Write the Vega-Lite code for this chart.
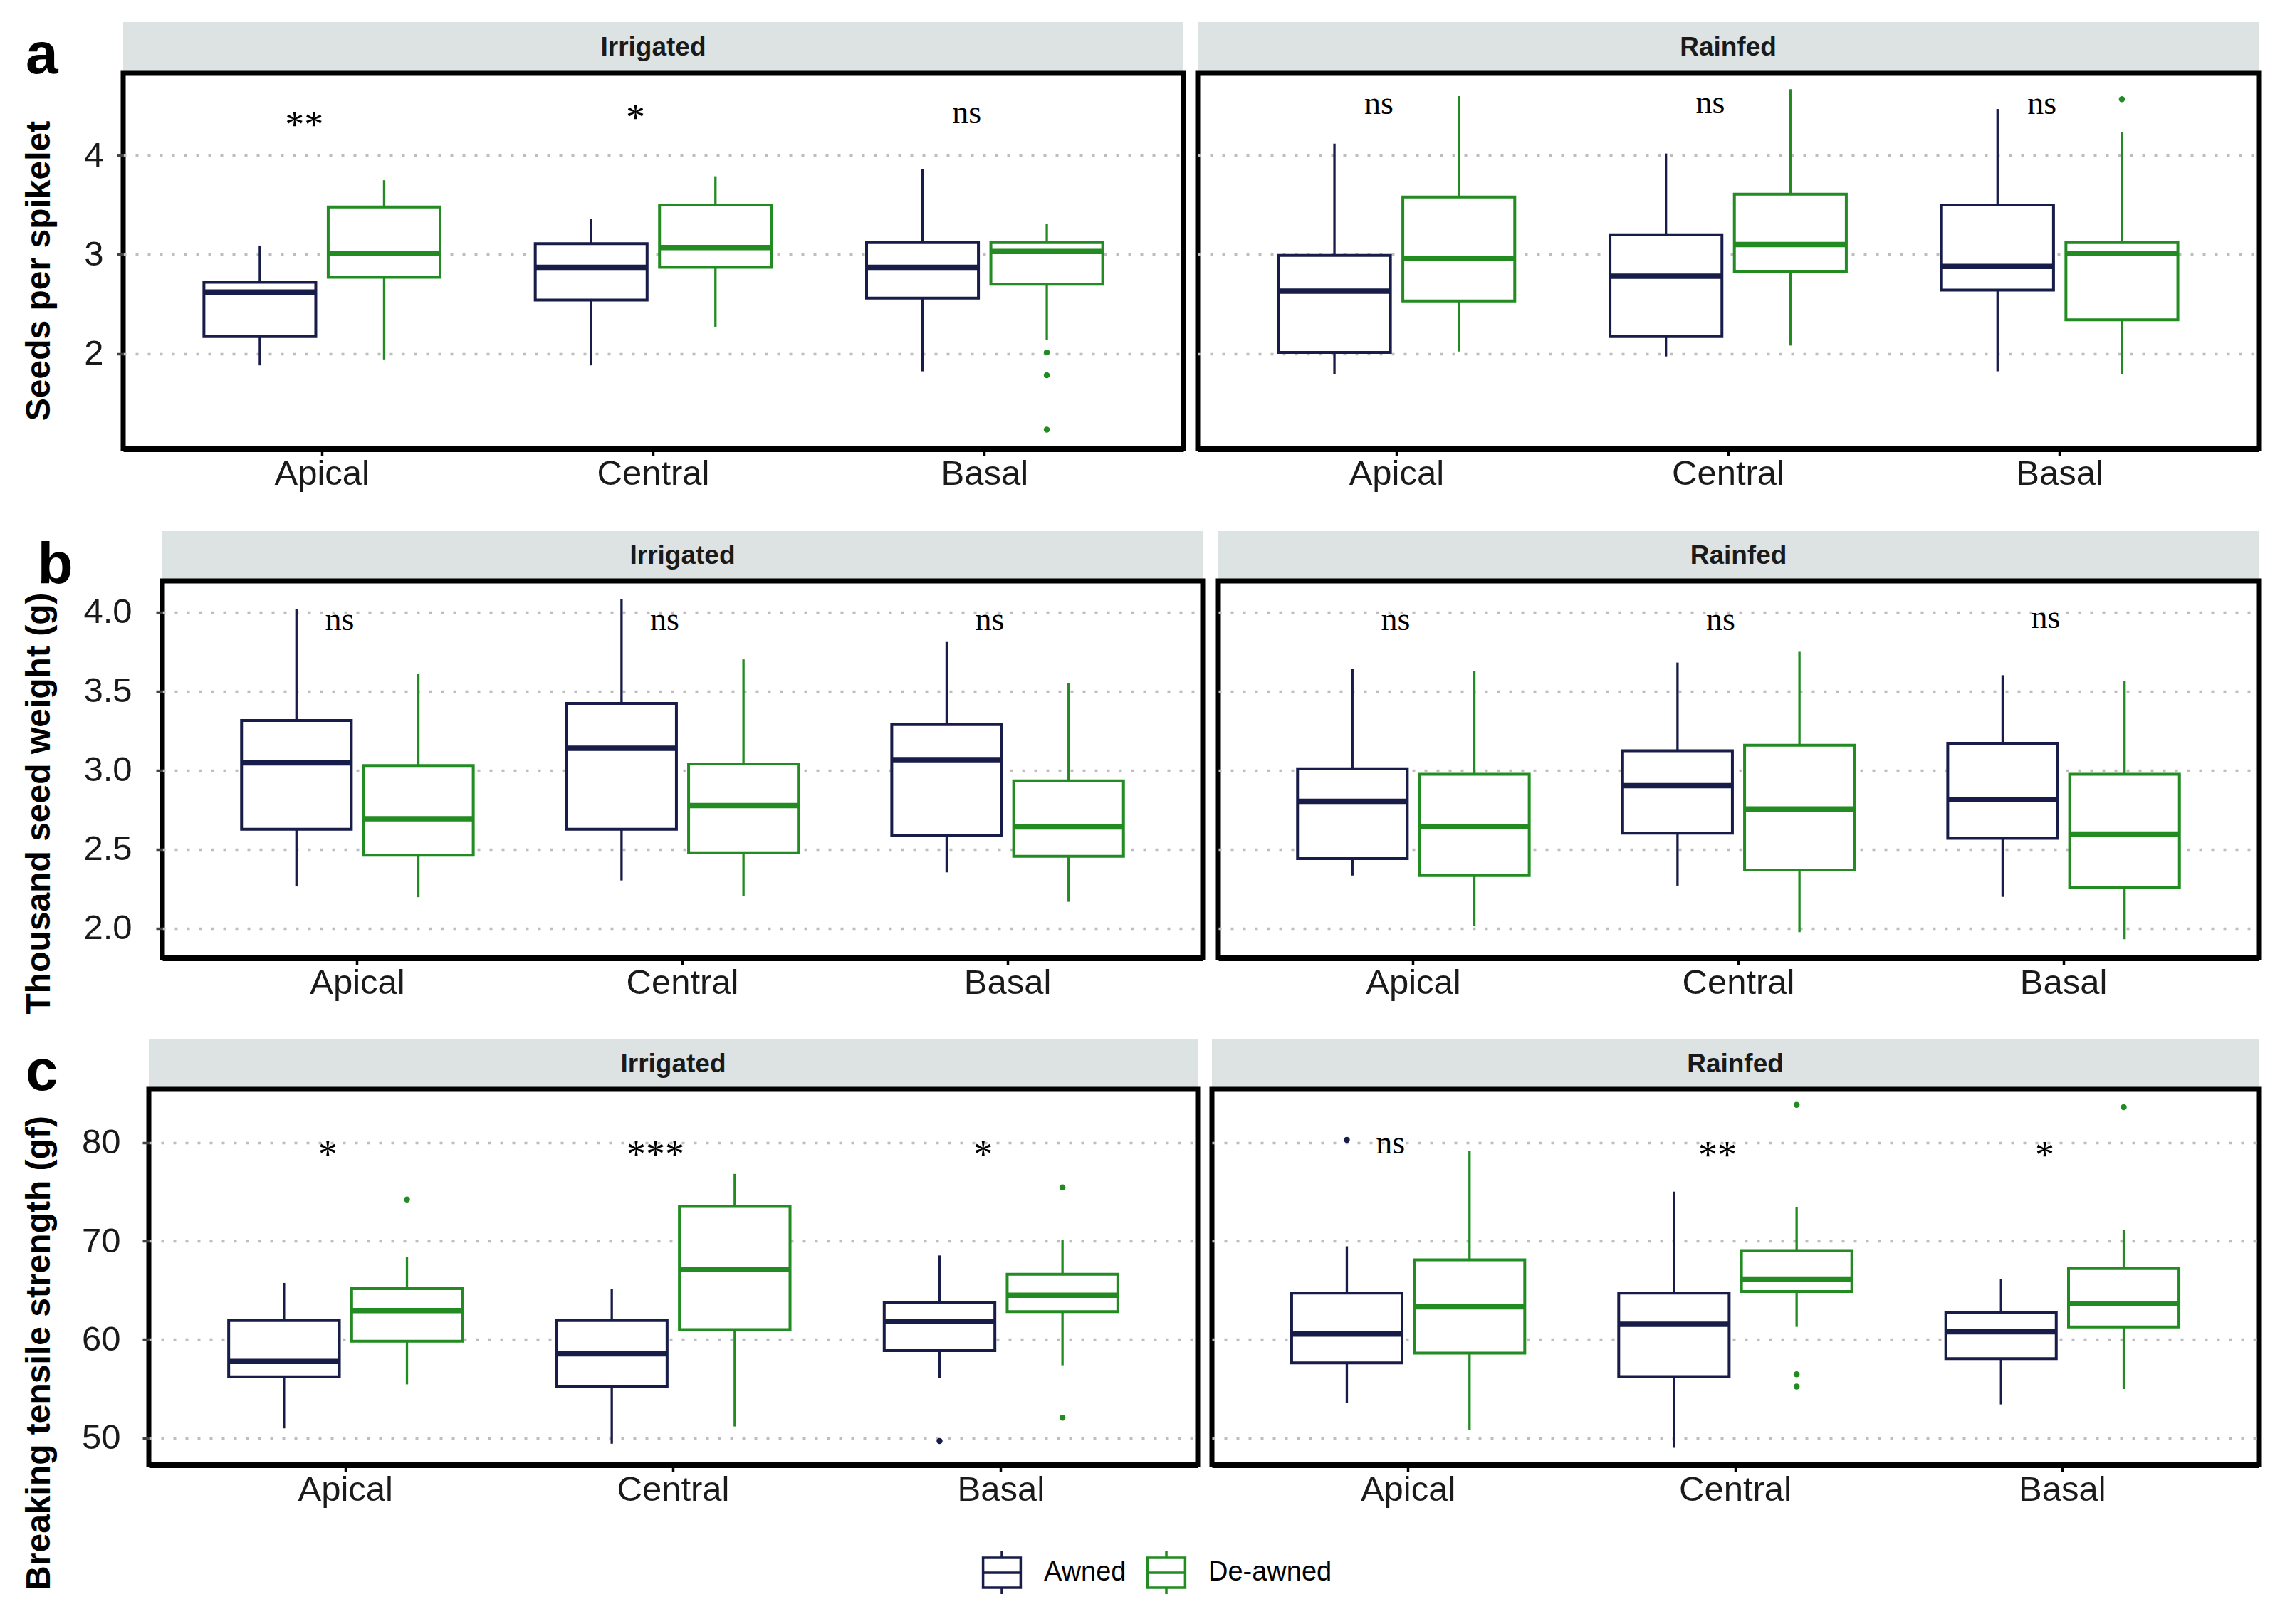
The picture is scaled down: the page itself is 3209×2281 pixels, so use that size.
{
"$schema":"https://vega.github.io/schema/vega-lite/v6.json",
"background":"white",
"padding":{"left":0,"top":30,"right":0,"bottom":0},
"datasets":{
"a_box":[
{"cond":"Irrigated","pos":"Apical","grp":"Awned","lo":1.88,"q1":2.17,"med":2.62,"q3":2.72,"hi":3.09},
{"cond":"Irrigated","pos":"Apical","grp":"De-awned","lo":1.94,"q1":2.77,"med":3.01,"q3":3.48,"hi":3.75},
{"cond":"Irrigated","pos":"Central","grp":"Awned","lo":1.88,"q1":2.54,"med":2.87,"q3":3.11,"hi":3.36},
{"cond":"Irrigated","pos":"Central","grp":"De-awned","lo":2.27,"q1":2.87,"med":3.07,"q3":3.50,"hi":3.79},
{"cond":"Irrigated","pos":"Basal","grp":"Awned","lo":1.82,"q1":2.56,"med":2.87,"q3":3.12,"hi":3.86},
{"cond":"Irrigated","pos":"Basal","grp":"De-awned","lo":2.14,"q1":2.70,"med":3.03,"q3":3.12,"hi":3.31},
{"cond":"Rainfed","pos":"Apical","grp":"Awned","lo":1.79,"q1":2.01,"med":2.63,"q3":2.99,"hi":4.12},
{"cond":"Rainfed","pos":"Apical","grp":"De-awned","lo":2.02,"q1":2.53,"med":2.96,"q3":3.58,"hi":4.60},
{"cond":"Rainfed","pos":"Central","grp":"Awned","lo":1.97,"q1":2.17,"med":2.78,"q3":3.20,"hi":4.02},
{"cond":"Rainfed","pos":"Central","grp":"De-awned","lo":2.08,"q1":2.83,"med":3.10,"q3":3.61,"hi":4.67},
{"cond":"Rainfed","pos":"Basal","grp":"Awned","lo":1.82,"q1":2.64,"med":2.88,"q3":3.50,"hi":4.47},
{"cond":"Rainfed","pos":"Basal","grp":"De-awned","lo":1.79,"q1":2.34,"med":3.01,"q3":3.12,"hi":4.24}
],
"a_out":[
{"cond":"Irrigated","pos":"Basal","grp":"De-awned","v":2.01},
{"cond":"Irrigated","pos":"Basal","grp":"De-awned","v":1.78},
{"cond":"Irrigated","pos":"Basal","grp":"De-awned","v":1.23},
{"cond":"Rainfed","pos":"Basal","grp":"De-awned","v":4.57}
],
"a_sig":[
{"cond":"Irrigated","pos":"Apical","lab":"**","v":4.30},
{"cond":"Irrigated","pos":"Central","lab":"*","v":4.37},
{"cond":"Irrigated","pos":"Basal","lab":"ns","v":4.43},
{"cond":"Rainfed","pos":"Apical","lab":"ns","v":4.52},
{"cond":"Rainfed","pos":"Central","lab":"ns","v":4.53},
{"cond":"Rainfed","pos":"Basal","lab":"ns","v":4.52}
],
"b_box":[
{"cond":"Irrigated","pos":"Apical","grp":"Awned","lo":2.264,"q1":2.626,"med":3.045,"q3":3.314,"hi":4.017},
{"cond":"Irrigated","pos":"Apical","grp":"De-awned","lo":2.196,"q1":2.461,"med":2.692,"q3":3.029,"hi":3.607},
{"cond":"Irrigated","pos":"Central","grp":"Awned","lo":2.302,"q1":2.626,"med":3.138,"q3":3.421,"hi":4.079},
{"cond":"Irrigated","pos":"Central","grp":"De-awned","lo":2.202,"q1":2.477,"med":2.775,"q3":3.039,"hi":3.70},
{"cond":"Irrigated","pos":"Basal","grp":"Awned","lo":2.353,"q1":2.585,"med":3.066,"q3":3.287,"hi":3.81},
{"cond":"Irrigated","pos":"Basal","grp":"De-awned","lo":2.167,"q1":2.455,"med":2.640,"q3":2.932,"hi":3.55},
{"cond":"Rainfed","pos":"Apical","grp":"Awned","lo":2.333,"q1":2.440,"med":2.802,"q3":3.008,"hi":3.638},
{"cond":"Rainfed","pos":"Apical","grp":"De-awned","lo":2.012,"q1":2.333,"med":2.643,"q3":2.973,"hi":3.624},
{"cond":"Rainfed","pos":"Central","grp":"Awned","lo":2.269,"q1":2.601,"med":2.901,"q3":3.122,"hi":3.68},
{"cond":"Rainfed","pos":"Central","grp":"De-awned","lo":1.975,"q1":2.368,"med":2.754,"q3":3.157,"hi":3.748},
{"cond":"Rainfed","pos":"Basal","grp":"Awned","lo":2.198,"q1":2.568,"med":2.812,"q3":3.169,"hi":3.60},
{"cond":"Rainfed","pos":"Basal","grp":"De-awned","lo":1.930,"q1":2.258,"med":2.595,"q3":2.973,"hi":3.562}
],
"b_sig":[
{"cond":"Irrigated","pos":"Apical","lab":"ns","v":3.95},
{"cond":"Irrigated","pos":"Central","lab":"ns","v":3.95},
{"cond":"Irrigated","pos":"Basal","lab":"ns","v":3.95},
{"cond":"Rainfed","pos":"Apical","lab":"ns","v":3.95},
{"cond":"Rainfed","pos":"Central","lab":"ns","v":3.95},
{"cond":"Rainfed","pos":"Basal","lab":"ns","v":3.96}
],
"c_box":[
{"cond":"Irrigated","pos":"Apical","grp":"Awned","lo":50.97,"q1":56.21,"med":57.77,"q3":61.93,"hi":65.74},
{"cond":"Irrigated","pos":"Apical","grp":"De-awned","lo":55.44,"q1":59.83,"med":62.94,"q3":65.15,"hi":68.34},
{"cond":"Irrigated","pos":"Central","grp":"Awned","lo":49.41,"q1":55.24,"med":58.55,"q3":61.93,"hi":65.15},
{"cond":"Irrigated","pos":"Central","grp":"De-awned","lo":51.16,"q1":61.0,"med":67.10,"q3":73.51,"hi":76.81},
{"cond":"Irrigated","pos":"Basal","grp":"Awned","lo":56.10,"q1":58.86,"med":61.85,"q3":63.79,"hi":68.53},
{"cond":"Irrigated","pos":"Basal","grp":"De-awned","lo":57.38,"q1":62.82,"med":64.49,"q3":66.63,"hi":70.09},
{"cond":"Rainfed","pos":"Apical","grp":"Awned","lo":53.56,"q1":57.62,"med":60.55,"q3":64.70,"hi":69.46},
{"cond":"Rainfed","pos":"Apical","grp":"De-awned","lo":50.80,"q1":58.62,"med":63.31,"q3":68.09,"hi":79.17},
{"cond":"Rainfed","pos":"Central","grp":"Awned","lo":49.0,"q1":56.22,"med":61.54,"q3":64.70,"hi":75.01},
{"cond":"Rainfed","pos":"Central","grp":"De-awned","lo":61.28,"q1":64.87,"med":66.13,"q3":69.03,"hi":73.42},
{"cond":"Rainfed","pos":"Basal","grp":"Awned","lo":53.40,"q1":58.05,"med":60.78,"q3":62.71,"hi":66.13},
{"cond":"Rainfed","pos":"Basal","grp":"De-awned","lo":54.96,"q1":61.28,"med":63.64,"q3":67.20,"hi":71.09}
],
"c_out":[
{"cond":"Irrigated","pos":"Apical","grp":"De-awned","v":74.21},
{"cond":"Irrigated","pos":"Basal","grp":"Awned","v":49.69},
{"cond":"Irrigated","pos":"Basal","grp":"De-awned","v":75.45},
{"cond":"Irrigated","pos":"Basal","grp":"De-awned","v":52.06},
{"cond":"Rainfed","pos":"Apical","grp":"Awned","v":80.27},
{"cond":"Rainfed","pos":"Central","grp":"De-awned","v":83.82},
{"cond":"Rainfed","pos":"Central","grp":"De-awned","v":56.46},
{"cond":"Rainfed","pos":"Central","grp":"De-awned","v":55.22},
{"cond":"Rainfed","pos":"Basal","grp":"De-awned","v":83.59}
],
"c_sig":[
{"cond":"Irrigated","pos":"Apical","lab":"*","v":78.7},
{"cond":"Irrigated","pos":"Central","lab":"***","v":78.7},
{"cond":"Irrigated","pos":"Basal","lab":"*","v":78.7},
{"cond":"Rainfed","pos":"Apical","lab":"ns","v":79.9},
{"cond":"Rainfed","pos":"Central","lab":"**","v":78.6},
{"cond":"Rainfed","pos":"Basal","lab":"*","v":78.6}
]
},
"spacing":51,
"resolve":{"scale":{"xOffset":"independent"}},
"vconcat":[
{"hconcat":[
 {"width":16,"height":10,"view":{"stroke":null},"data":{"values":[{"s":""}]},"mark":{"type":"text"},"encoding":{"text":{"field":"s"}}},
 {"vconcat":[
  {"width":1489,"height":72,"view":{"fill":"#dde3e2","stroke":null},
   "data":{"values":[{"s":"Irrigated"}]},
   "mark":{"type":"text","font":"Liberation Sans","fontWeight":"bold","fontSize":37,"color":"#1a1a1a","baseline":"middle"},
   "encoding":{"x":{"field":"s","type":"nominal","axis":null,"scale":{"paddingInner":0,"paddingOuter":0}},
    "y":{"field":"s","type":"nominal","scale":{"paddingInner":0,"paddingOuter":0},"axis":{"title":"a","titleAngle":0,"titleFontSize":82,"titleFontWeight":"bold","titleColor":"black","titleAlign":"right","titleBaseline":"alphabetic","titleY":71,"titlePadding":92,"labels":false,"ticks":false,"domain":false,"grid":false}},
    "text":{"field":"s"}}},
  {"width":1489,"height":527,
   "encoding":{"x":{"field":"pos","type":"nominal","title":null,"scale":{"domain":["Apical","Central","Basal"],"paddingInner":0,"paddingOuter":0.1}}},
   "layer":[
    {"data":{"name":"a_box"},"transform":[{"filter":"datum.cond === 'Irrigated'"}],
     "encoding":{"xOffset":{"field":"grp","type":"nominal","scale":{"domain":["Awned","De-awned"],"paddingInner":0.1,"paddingOuter":0.383}}},
     "layer":[
      {"mark":{"type":"rule","strokeWidth":3.3},"encoding":{"y":{"field":"lo","type":"quantitative","title":"Seeds per spikelet","scale":{"domain":[1.04,4.83],"nice":false,"zero":false},"axis":{"values":[2,3,4],"format":"d","labelPadding":19,"titlePadding":38,"titleY":277}},"y2":{"field":"q1"},"stroke":{"field":"grp","type":"nominal","scale":{"domain":["Awned","De-awned"],"range":["#181c48","#228b22"]}}}},
      {"mark":{"type":"rule","strokeWidth":3.3},"encoding":{"y":{"field":"q3","type":"quantitative","title":"Seeds per spikelet","scale":{"domain":[1.04,4.83],"nice":false,"zero":false}},"y2":{"field":"hi"},"stroke":{"field":"grp","type":"nominal","scale":{"domain":["Awned","De-awned"],"range":["#181c48","#228b22"]}}}},
      {"mark":{"type":"bar","fill":"white"},"encoding":{"y":{"field":"q1","type":"quantitative","title":"Seeds per spikelet","scale":{"domain":[1.04,4.83],"nice":false,"zero":false}},"y2":{"field":"q3"}}},
      {"mark":{"type":"bar","filled":false,"strokeWidth":4},"encoding":{"y":{"field":"q1","type":"quantitative","title":"Seeds per spikelet","scale":{"domain":[1.04,4.83],"nice":false,"zero":false}},"y2":{"field":"q3"},"stroke":{"field":"grp","type":"nominal","scale":{"domain":["Awned","De-awned"],"range":["#181c48","#228b22"]}}}},
      {"mark":{"type":"bar","filled":false,"strokeWidth":7.5},"encoding":{"y":{"field":"med","type":"quantitative","title":"Seeds per spikelet","scale":{"domain":[1.04,4.83],"nice":false,"zero":false}},"y2":{"field":"med"},"stroke":{"field":"grp","type":"nominal","scale":{"domain":["Awned","De-awned"],"range":["#181c48","#228b22"]}}}}
     ]},
    {"data":{"name":"a_out"},"transform":[{"filter":"datum.cond === 'Irrigated'"}],
     "mark":{"type":"point","filled":true,"size":72,"opacity":1},
     "encoding":{"xOffset":{"field":"grp","type":"nominal","scale":{"domain":["Awned","De-awned"],"paddingInner":0.1,"paddingOuter":0.383}},
      "y":{"field":"v","type":"quantitative","title":"Seeds per spikelet","scale":{"domain":[1.04,4.83],"nice":false,"zero":false}},
      "color":{"field":"grp","type":"nominal","scale":{"domain":["Awned","De-awned"],"range":["#181c48","#228b22"]},"legend":null}}},
    {"data":{"name":"a_sig"},"transform":[{"filter":"datum.cond === 'Irrigated'"}],
     "mark":{"type":"text","font":"Liberation Serif","color":"black","dx":-25,"baseline":"middle"},
     "encoding":{"y":{"field":"v","type":"quantitative","title":"Seeds per spikelet","scale":{"domain":[1.04,4.83],"nice":false,"zero":false}},"text":{"field":"lab"},
      "size":{"condition":{"test":"datum.lab === 'ns'","value":46},"value":54}}}
   ]}
 ],"spacing":0,"bounds":"flush","resolve":{"scale":{"xOffset":"independent"}}},
 {"vconcat":[
  {"width":1490,"height":72,"view":{"fill":"#dde3e2","stroke":null},
   "data":{"values":[{"s":"Rainfed"}]},
   "mark":{"type":"text","font":"Liberation Sans","fontWeight":"bold","fontSize":37,"color":"#1a1a1a","baseline":"middle"},
   "encoding":{"x":{"field":"s","type":"nominal","axis":null,"scale":{"paddingInner":0,"paddingOuter":0}},
    "y":{"field":"s","type":"nominal","scale":{"paddingInner":0,"paddingOuter":0},"axis":null},
    "text":{"field":"s"}}},
  {"width":1490,"height":527,
   "encoding":{"x":{"field":"pos","type":"nominal","title":null,"scale":{"domain":["Apical","Central","Basal"],"paddingInner":0,"paddingOuter":0.1}}},
   "layer":[
    {"data":{"name":"a_box"},"transform":[{"filter":"datum.cond === 'Rainfed'"}],
     "encoding":{"xOffset":{"field":"grp","type":"nominal","scale":{"domain":["Awned","De-awned"],"paddingInner":0.1,"paddingOuter":0.383}}},
     "layer":[
      {"mark":{"type":"rule","strokeWidth":3.3},"encoding":{"y":{"field":"lo","type":"quantitative","title":null,"scale":{"domain":[1.04,4.83],"nice":false,"zero":false},"axis":{"values":[2,3,4],"labels":false,"ticks":false,"title":null}},"y2":{"field":"q1"},"stroke":{"field":"grp","type":"nominal","scale":{"domain":["Awned","De-awned"],"range":["#181c48","#228b22"]}}}},
      {"mark":{"type":"rule","strokeWidth":3.3},"encoding":{"y":{"field":"q3","type":"quantitative","title":null,"scale":{"domain":[1.04,4.83],"nice":false,"zero":false}},"y2":{"field":"hi"},"stroke":{"field":"grp","type":"nominal","scale":{"domain":["Awned","De-awned"],"range":["#181c48","#228b22"]}}}},
      {"mark":{"type":"bar","fill":"white"},"encoding":{"y":{"field":"q1","type":"quantitative","title":null,"scale":{"domain":[1.04,4.83],"nice":false,"zero":false}},"y2":{"field":"q3"}}},
      {"mark":{"type":"bar","filled":false,"strokeWidth":4},"encoding":{"y":{"field":"q1","type":"quantitative","title":null,"scale":{"domain":[1.04,4.83],"nice":false,"zero":false}},"y2":{"field":"q3"},"stroke":{"field":"grp","type":"nominal","scale":{"domain":["Awned","De-awned"],"range":["#181c48","#228b22"]}}}},
      {"mark":{"type":"bar","filled":false,"strokeWidth":7.5},"encoding":{"y":{"field":"med","type":"quantitative","title":null,"scale":{"domain":[1.04,4.83],"nice":false,"zero":false}},"y2":{"field":"med"},"stroke":{"field":"grp","type":"nominal","scale":{"domain":["Awned","De-awned"],"range":["#181c48","#228b22"]}}}}
     ]},
    {"data":{"name":"a_out"},"transform":[{"filter":"datum.cond === 'Rainfed'"}],
     "mark":{"type":"point","filled":true,"size":72,"opacity":1},
     "encoding":{"xOffset":{"field":"grp","type":"nominal","scale":{"domain":["Awned","De-awned"],"paddingInner":0.1,"paddingOuter":0.383}},
      "y":{"field":"v","type":"quantitative","title":null,"scale":{"domain":[1.04,4.83],"nice":false,"zero":false}},
      "color":{"field":"grp","type":"nominal","scale":{"domain":["Awned","De-awned"],"range":["#181c48","#228b22"]},"legend":null}}},
    {"data":{"name":"a_sig"},"transform":[{"filter":"datum.cond === 'Rainfed'"}],
     "mark":{"type":"text","font":"Liberation Serif","color":"black","dx":-25,"baseline":"middle"},
     "encoding":{"y":{"field":"v","type":"quantitative","title":null,"scale":{"domain":[1.04,4.83],"nice":false,"zero":false}},"text":{"field":"lab"},
      "size":{"condition":{"test":"datum.lab === 'ns'","value":46},"value":54}}}
   ]}
 ],"spacing":0,"bounds":"flush","resolve":{"scale":{"xOffset":"independent"}}}
],"spacing":12,"resolve":{"scale":{"xOffset":"independent"}}},
{"vconcat":[
{"hconcat":[
 {"width":14,"height":10,"view":{"stroke":null},"data":{"values":[{"s":""}]},"mark":{"type":"text"},"encoding":{"text":{"field":"s"}}},
 {"vconcat":[
  {"width":1461,"height":70,"view":{"fill":"#dde3e2","stroke":null},
   "data":{"values":[{"s":"Irrigated"}]},
   "mark":{"type":"text","font":"Liberation Sans","fontWeight":"bold","fontSize":37,"color":"#1a1a1a","baseline":"middle"},
   "encoding":{"x":{"field":"s","type":"nominal","axis":null,"scale":{"paddingInner":0,"paddingOuter":0}},
    "y":{"field":"s","type":"nominal","scale":{"paddingInner":0,"paddingOuter":0},"axis":{"title":"b","titleAngle":0,"titleFontSize":82,"titleFontWeight":"bold","titleColor":"black","titleAlign":"right","titleBaseline":"alphabetic","titleY":72,"titlePadding":126,"labels":false,"ticks":false,"domain":false,"grid":false}},
    "text":{"field":"s"}}},
  {"width":1461,"height":529,
   "encoding":{"x":{"field":"pos","type":"nominal","title":null,"scale":{"domain":["Apical","Central","Basal"],"paddingInner":0,"paddingOuter":0.1}}},
   "layer":[
    {"data":{"name":"b_box"},"transform":[{"filter":"datum.cond === 'Irrigated'"}],
     "encoding":{"xOffset":{"field":"grp","type":"nominal","scale":{"domain":["Awned","De-awned"],"paddingInner":0.1,"paddingOuter":0.383}}},
     "layer":[
      {"mark":{"type":"rule","strokeWidth":3.3},"encoding":{"y":{"field":"lo","type":"quantitative","title":"Thousand seed weight (g)","scale":{"domain":[1.814,4.196],"nice":false,"zero":false},"axis":{"values":[2,2.5,3,3.5,4],"format":".1f","labelPadding":34,"titlePadding":37,"titleY":312}},"y2":{"field":"q1"},"stroke":{"field":"grp","type":"nominal","scale":{"domain":["Awned","De-awned"],"range":["#181c48","#228b22"]}}}},
      {"mark":{"type":"rule","strokeWidth":3.3},"encoding":{"y":{"field":"q3","type":"quantitative","title":"Thousand seed weight (g)","scale":{"domain":[1.814,4.196],"nice":false,"zero":false}},"y2":{"field":"hi"},"stroke":{"field":"grp","type":"nominal","scale":{"domain":["Awned","De-awned"],"range":["#181c48","#228b22"]}}}},
      {"mark":{"type":"bar","fill":"white"},"encoding":{"y":{"field":"q1","type":"quantitative","title":"Thousand seed weight (g)","scale":{"domain":[1.814,4.196],"nice":false,"zero":false}},"y2":{"field":"q3"}}},
      {"mark":{"type":"bar","filled":false,"strokeWidth":4},"encoding":{"y":{"field":"q1","type":"quantitative","title":"Thousand seed weight (g)","scale":{"domain":[1.814,4.196],"nice":false,"zero":false}},"y2":{"field":"q3"},"stroke":{"field":"grp","type":"nominal","scale":{"domain":["Awned","De-awned"],"range":["#181c48","#228b22"]}}}},
      {"mark":{"type":"bar","filled":false,"strokeWidth":7.5},"encoding":{"y":{"field":"med","type":"quantitative","title":"Thousand seed weight (g)","scale":{"domain":[1.814,4.196],"nice":false,"zero":false}},"y2":{"field":"med"},"stroke":{"field":"grp","type":"nominal","scale":{"domain":["Awned","De-awned"],"range":["#181c48","#228b22"]}}}}
     ]},
    {"data":{"name":"b_sig"},"transform":[{"filter":"datum.cond === 'Irrigated'"}],
     "mark":{"type":"text","font":"Liberation Serif","fontSize":46,"color":"black","dx":-25,"baseline":"middle"},
     "encoding":{"y":{"field":"v","type":"quantitative","title":"Thousand seed weight (g)","scale":{"domain":[1.814,4.196],"nice":false,"zero":false}},"text":{"field":"lab"}}}
   ]}
 ],"spacing":0,"bounds":"flush","resolve":{"scale":{"xOffset":"independent"}}},
 {"vconcat":[
  {"width":1461,"height":70,"view":{"fill":"#dde3e2","stroke":null},
   "data":{"values":[{"s":"Rainfed"}]},
   "mark":{"type":"text","font":"Liberation Sans","fontWeight":"bold","fontSize":37,"color":"#1a1a1a","baseline":"middle"},
   "encoding":{"x":{"field":"s","type":"nominal","axis":null,"scale":{"paddingInner":0,"paddingOuter":0}},
    "y":{"field":"s","type":"nominal","scale":{"paddingInner":0,"paddingOuter":0},"axis":null},
    "text":{"field":"s"}}},
  {"width":1461,"height":529,
   "encoding":{"x":{"field":"pos","type":"nominal","title":null,"scale":{"domain":["Apical","Central","Basal"],"paddingInner":0,"paddingOuter":0.1}}},
   "layer":[
    {"data":{"name":"b_box"},"transform":[{"filter":"datum.cond === 'Rainfed'"}],
     "encoding":{"xOffset":{"field":"grp","type":"nominal","scale":{"domain":["Awned","De-awned"],"paddingInner":0.1,"paddingOuter":0.383}}},
     "layer":[
      {"mark":{"type":"rule","strokeWidth":3.3},"encoding":{"y":{"field":"lo","type":"quantitative","title":null,"scale":{"domain":[1.814,4.196],"nice":false,"zero":false},"axis":{"values":[2,2.5,3,3.5,4],"labels":false,"ticks":false,"title":null}},"y2":{"field":"q1"},"stroke":{"field":"grp","type":"nominal","scale":{"domain":["Awned","De-awned"],"range":["#181c48","#228b22"]}}}},
      {"mark":{"type":"rule","strokeWidth":3.3},"encoding":{"y":{"field":"q3","type":"quantitative","title":null,"scale":{"domain":[1.814,4.196],"nice":false,"zero":false}},"y2":{"field":"hi"},"stroke":{"field":"grp","type":"nominal","scale":{"domain":["Awned","De-awned"],"range":["#181c48","#228b22"]}}}},
      {"mark":{"type":"bar","fill":"white"},"encoding":{"y":{"field":"q1","type":"quantitative","title":null,"scale":{"domain":[1.814,4.196],"nice":false,"zero":false}},"y2":{"field":"q3"}}},
      {"mark":{"type":"bar","filled":false,"strokeWidth":4},"encoding":{"y":{"field":"q1","type":"quantitative","title":null,"scale":{"domain":[1.814,4.196],"nice":false,"zero":false}},"y2":{"field":"q3"},"stroke":{"field":"grp","type":"nominal","scale":{"domain":["Awned","De-awned"],"range":["#181c48","#228b22"]}}}},
      {"mark":{"type":"bar","filled":false,"strokeWidth":7.5},"encoding":{"y":{"field":"med","type":"quantitative","title":null,"scale":{"domain":[1.814,4.196],"nice":false,"zero":false}},"y2":{"field":"med"},"stroke":{"field":"grp","type":"nominal","scale":{"domain":["Awned","De-awned"],"range":["#181c48","#228b22"]}}}}
     ]},
    {"data":{"name":"b_sig"},"transform":[{"filter":"datum.cond === 'Rainfed'"}],
     "mark":{"type":"text","font":"Liberation Serif","fontSize":46,"color":"black","dx":-25,"baseline":"middle"},
     "encoding":{"y":{"field":"v","type":"quantitative","title":null,"scale":{"domain":[1.814,4.196],"nice":false,"zero":false}},"text":{"field":"lab"}}}
   ]}
 ],"spacing":0,"bounds":"flush","resolve":{"scale":{"xOffset":"independent"}}}
],"spacing":14,"resolve":{"scale":{"xOffset":"independent"}}},
{"hconcat":[
 {"width":16,"height":10,"view":{"stroke":null},"data":{"values":[{"s":""}]},"mark":{"type":"text"},"encoding":{"text":{"field":"s"}}},
 {"vconcat":[
  {"width":1473,"height":71,"view":{"fill":"#dde3e2","stroke":null},
   "data":{"values":[{"s":"Irrigated"}]},
   "mark":{"type":"text","font":"Liberation Sans","fontWeight":"bold","fontSize":37,"color":"#1a1a1a","baseline":"middle"},
   "encoding":{"x":{"field":"s","type":"nominal","axis":null,"scale":{"paddingInner":0,"paddingOuter":0}},
    "y":{"field":"s","type":"nominal","scale":{"paddingInner":0,"paddingOuter":0},"axis":{"title":"c","titleAngle":0,"titleFontSize":82,"titleFontWeight":"bold","titleColor":"black","titleAlign":"right","titleBaseline":"alphabetic","titleY":71,"titlePadding":128,"labels":false,"ticks":false,"domain":false,"grid":false}},
    "text":{"field":"s"}}},
  {"width":1473,"height":527,
   "encoding":{"x":{"field":"pos","type":"nominal","title":null,"scale":{"domain":["Apical","Central","Basal"],"paddingInner":0,"paddingOuter":0.1}}},
   "layer":[
    {"data":{"name":"c_box"},"transform":[{"filter":"datum.cond === 'Irrigated'"}],
     "encoding":{"xOffset":{"field":"grp","type":"nominal","scale":{"domain":["Awned","De-awned"],"paddingInner":0.1,"paddingOuter":0.383}}},
     "layer":[
      {"mark":{"type":"rule","strokeWidth":3.3},"encoding":{"y":{"field":"lo","type":"quantitative","title":"Breaking tensile strength (gf)","scale":{"domain":[47.3,85.4],"nice":false,"zero":false},"axis":{"values":[50,60,70,80],"format":"d","labelPadding":31,"titlePadding":34.5,"titleY":370}},"y2":{"field":"q1"},"stroke":{"field":"grp","type":"nominal","scale":{"domain":["Awned","De-awned"],"range":["#181c48","#228b22"]}}}},
      {"mark":{"type":"rule","strokeWidth":3.3},"encoding":{"y":{"field":"q3","type":"quantitative","title":"Breaking tensile strength (gf)","scale":{"domain":[47.3,85.4],"nice":false,"zero":false}},"y2":{"field":"hi"},"stroke":{"field":"grp","type":"nominal","scale":{"domain":["Awned","De-awned"],"range":["#181c48","#228b22"]}}}},
      {"mark":{"type":"bar","fill":"white"},"encoding":{"y":{"field":"q1","type":"quantitative","title":"Breaking tensile strength (gf)","scale":{"domain":[47.3,85.4],"nice":false,"zero":false}},"y2":{"field":"q3"}}},
      {"mark":{"type":"bar","filled":false,"strokeWidth":4},"encoding":{"y":{"field":"q1","type":"quantitative","title":"Breaking tensile strength (gf)","scale":{"domain":[47.3,85.4],"nice":false,"zero":false}},"y2":{"field":"q3"},
        "stroke":{"field":"grp","type":"nominal","scale":{"domain":["Awned","De-awned"],"range":["#181c48","#228b22"]},
         "legend":{"orient":"none","legendX":1375,"legendY":2146,"direction":"horizontal","title":null,"symbolType":"M-0.94,-0.7H0.94 M0.88,-0.76V0.76 M0.94,0.7H-0.94 M-0.88,0.76V-0.76 M-0.88,0H0.88 M0,-0.7V-1 M0,0.7V1","symbolSize":3600,"symbolStrokeWidth":3.5,"labelFontSize":38,"labelFont":"Liberation Sans","labelColor":"black","labelOffset":27,"labelLimit":400,"columnPadding":20,"padding":0}}}},
      {"mark":{"type":"bar","filled":false,"strokeWidth":7.5},"encoding":{"y":{"field":"med","type":"quantitative","title":"Breaking tensile strength (gf)","scale":{"domain":[47.3,85.4],"nice":false,"zero":false}},"y2":{"field":"med"},"stroke":{"field":"grp","type":"nominal","scale":{"domain":["Awned","De-awned"],"range":["#181c48","#228b22"]}}}}
     ]},
    {"data":{"name":"c_out"},"transform":[{"filter":"datum.cond === 'Irrigated'"}],
     "mark":{"type":"point","filled":true,"size":72,"opacity":1},
     "encoding":{"xOffset":{"field":"grp","type":"nominal","scale":{"domain":["Awned","De-awned"],"paddingInner":0.1,"paddingOuter":0.383}},
      "y":{"field":"v","type":"quantitative","title":"Breaking tensile strength (gf)","scale":{"domain":[47.3,85.4],"nice":false,"zero":false}},
      "color":{"field":"grp","type":"nominal","scale":{"domain":["Awned","De-awned"],"range":["#181c48","#228b22"]},"legend":null}}},
    {"data":{"name":"c_sig"},"transform":[{"filter":"datum.cond === 'Irrigated'"}],
     "mark":{"type":"text","font":"Liberation Serif","color":"black","dx":-25,"baseline":"middle"},
     "encoding":{"y":{"field":"v","type":"quantitative","title":"Breaking tensile strength (gf)","scale":{"domain":[47.3,85.4],"nice":false,"zero":false}},"text":{"field":"lab"},
      "size":{"condition":{"test":"datum.lab === 'ns'","value":46},"value":54}}}
   ]}
 ],"spacing":0,"bounds":"flush","resolve":{"scale":{"xOffset":"independent"}}},
 {"vconcat":[
  {"width":1470,"height":71,"view":{"fill":"#dde3e2","stroke":null},
   "data":{"values":[{"s":"Rainfed"}]},
   "mark":{"type":"text","font":"Liberation Sans","fontWeight":"bold","fontSize":37,"color":"#1a1a1a","baseline":"middle"},
   "encoding":{"x":{"field":"s","type":"nominal","axis":null,"scale":{"paddingInner":0,"paddingOuter":0}},
    "y":{"field":"s","type":"nominal","scale":{"paddingInner":0,"paddingOuter":0},"axis":null},
    "text":{"field":"s"}}},
  {"width":1470,"height":527,
   "encoding":{"x":{"field":"pos","type":"nominal","title":null,"scale":{"domain":["Apical","Central","Basal"],"paddingInner":0,"paddingOuter":0.1}}},
   "layer":[
    {"data":{"name":"c_box"},"transform":[{"filter":"datum.cond === 'Rainfed'"}],
     "encoding":{"xOffset":{"field":"grp","type":"nominal","scale":{"domain":["Awned","De-awned"],"paddingInner":0.1,"paddingOuter":0.383}}},
     "layer":[
      {"mark":{"type":"rule","strokeWidth":3.3},"encoding":{"y":{"field":"lo","type":"quantitative","title":null,"scale":{"domain":[47.3,85.4],"nice":false,"zero":false},"axis":{"values":[50,60,70,80],"labels":false,"ticks":false,"title":null}},"y2":{"field":"q1"},"stroke":{"field":"grp","type":"nominal","scale":{"domain":["Awned","De-awned"],"range":["#181c48","#228b22"]}}}},
      {"mark":{"type":"rule","strokeWidth":3.3},"encoding":{"y":{"field":"q3","type":"quantitative","title":null,"scale":{"domain":[47.3,85.4],"nice":false,"zero":false}},"y2":{"field":"hi"},"stroke":{"field":"grp","type":"nominal","scale":{"domain":["Awned","De-awned"],"range":["#181c48","#228b22"]}}}},
      {"mark":{"type":"bar","fill":"white"},"encoding":{"y":{"field":"q1","type":"quantitative","title":null,"scale":{"domain":[47.3,85.4],"nice":false,"zero":false}},"y2":{"field":"q3"}}},
      {"mark":{"type":"bar","filled":false,"strokeWidth":4},"encoding":{"y":{"field":"q1","type":"quantitative","title":null,"scale":{"domain":[47.3,85.4],"nice":false,"zero":false}},"y2":{"field":"q3"},"stroke":{"field":"grp","type":"nominal","scale":{"domain":["Awned","De-awned"],"range":["#181c48","#228b22"]}}}},
      {"mark":{"type":"bar","filled":false,"strokeWidth":7.5},"encoding":{"y":{"field":"med","type":"quantitative","title":null,"scale":{"domain":[47.3,85.4],"nice":false,"zero":false}},"y2":{"field":"med"},"stroke":{"field":"grp","type":"nominal","scale":{"domain":["Awned","De-awned"],"range":["#181c48","#228b22"]}}}}
     ]},
    {"data":{"name":"c_out"},"transform":[{"filter":"datum.cond === 'Rainfed'"}],
     "mark":{"type":"point","filled":true,"size":72,"opacity":1},
     "encoding":{"xOffset":{"field":"grp","type":"nominal","scale":{"domain":["Awned","De-awned"],"paddingInner":0.1,"paddingOuter":0.383}},
      "y":{"field":"v","type":"quantitative","title":null,"scale":{"domain":[47.3,85.4],"nice":false,"zero":false}},
      "color":{"field":"grp","type":"nominal","scale":{"domain":["Awned","De-awned"],"range":["#181c48","#228b22"]},"legend":null}}},
    {"data":{"name":"c_sig"},"transform":[{"filter":"datum.cond === 'Rainfed'"}],
     "mark":{"type":"text","font":"Liberation Serif","color":"black","dx":-25,"baseline":"middle"},
     "encoding":{"y":{"field":"v","type":"quantitative","title":null,"scale":{"domain":[47.3,85.4],"nice":false,"zero":false}},"text":{"field":"lab"},
      "size":{"condition":{"test":"datum.lab === 'ns'","value":46},"value":54}}}
   ]}
 ],"spacing":0,"bounds":"flush","resolve":{"scale":{"xOffset":"independent"}}}
],"spacing":12,"resolve":{"scale":{"xOffset":"independent"}}}
],"spacing":30,"resolve":{"scale":{"xOffset":"independent"}}}
],
"config":{
 "font":"Liberation Sans",
 "view":{"stroke":"black","strokeWidth":7},
 "axis":{"labelFont":"Liberation Sans","labelFontSize":49,"labelColor":"#1a1a1a","tickColor":"#444444","tickWidth":3.5,"tickSize":9,"titleFont":"Liberation Sans","titleFontSize":48,"titleFontWeight":"bold","titleColor":"black"},
 "axisX":{"grid":false,"domainColor":"black","domainWidth":9,"labelAngle":0,"labelPadding":1,"tickColor":"black","tickSize":10},
 "axisY":{"domain":false,"grid":true,"gridColor":"#bdbdbd","gridDash":[4,13],"gridWidth":3.5}
}
}
